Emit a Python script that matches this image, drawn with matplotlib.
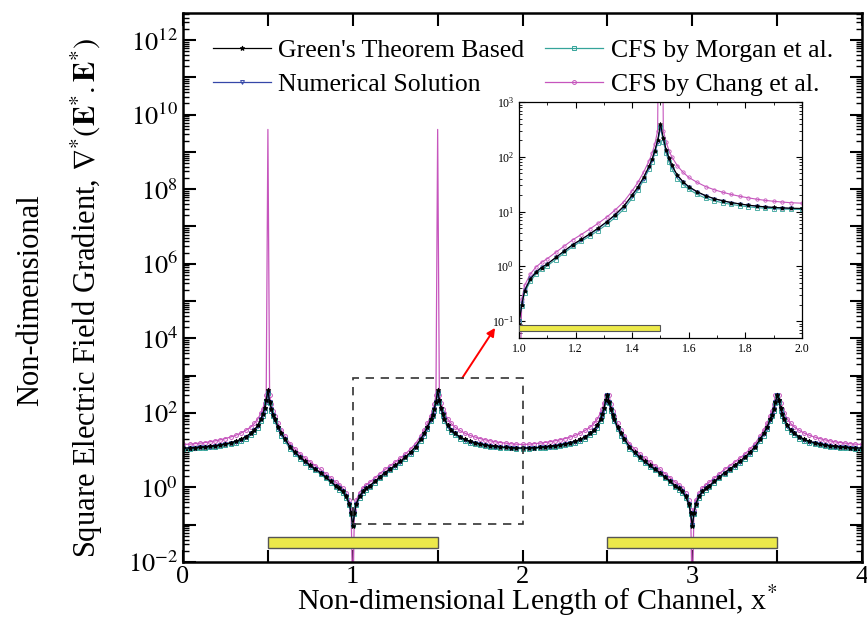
import numpy as np
import matplotlib
matplotlib.use("Agg")
import matplotlib.pyplot as plt
from matplotlib.patches import Rectangle
from matplotlib.ticker import LogLocator, NullFormatter, FixedLocator

plt.rcParams['font.family'] = ['Liberation Serif', 'DejaVu Serif']
plt.rcParams['mathtext.fontset'] = 'stix'
plt.rcParams['axes.unicode_minus'] = False

# half cell profile, x from electrode gap centre (1.0) to channel midpoint (2.0)
x_half = [1.00, 1.01, 1.02, 1.04, 1.06, 1.08, 1.10, 1.13, 1.16, 1.19, 1.22,
          1.25, 1.28, 1.31, 1.34, 1.37, 1.40, 1.42, 1.44, 1.46, 1.47, 1.48,
          1.49, 1.50, 1.51, 1.52, 1.53, 1.54, 1.56, 1.58, 1.60, 1.63, 1.66,
          1.69, 1.72, 1.75, 1.78, 1.81, 1.84, 1.87, 1.90, 1.93, 1.96, 2.00]

green = [0.09, 0.2, 0.36, 0.58, 0.78, 0.95, 1.1, 1.45, 1.9, 2.5, 3.1,
         3.9, 5.0, 6.5, 8.8, 12.5, 20, 28, 42, 68, 90, 130,
         200, 400, 220, 135, 95, 70, 46, 35, 28.5, 23, 19.5,
         17.2, 15.8, 14.6, 13.8, 13.1, 12.6, 12.2, 11.9, 11.7, 11.5, 11.4]
numerical = [0.1, 0.21, 0.37, 0.6, 0.8, 0.96, 1.1, 1.45, 1.9, 2.45, 3.05,
             3.85, 4.9, 6.4, 8.6, 12.2, 19.5, 27, 40, 65, 86, 125,
             190, 350, 210, 130, 92, 68, 45, 34, 28, 22.5, 19.2,
             17, 15.6, 14.5, 13.7, 13.0, 12.5, 12.1, 11.8, 11.6, 11.4, 11.3]
morgan = [0.1, 0.19, 0.33, 0.53, 0.72, 0.88, 1.02, 1.33, 1.75, 2.3, 2.85,
          3.55, 4.5, 5.8, 7.8, 11, 17.5, 24.5, 37, 60, 80, 115,
          180, 350, 190, 115, 80, 60, 40, 31, 25.5, 20.5, 17.5,
          15.7, 14.4, 13.5, 12.8, 12.2, 11.8, 11.5, 11.3, 11.1, 11.0, 10.9]
chang = [1e-3, 0.25, 0.45, 0.72, 0.97, 1.18, 1.38, 1.8, 2.35, 3.05, 3.8,
         4.8, 6.1, 7.9, 10.7, 15, 24, 34, 52, 85, 115, 170,
         300, 4e9, 300, 185, 130, 100, 68, 52, 42, 34, 28.5,
         25, 22.5, 20.5, 19, 17.8, 16.8, 16, 15.4, 14.9, 14.5, 14.2]

# second electrode pair: peaks flatten at this level
peak_cap_right = 300

def full_channel(vals):
    xh = np.array(x_half)
    yh = np.array(vals, dtype=float)
    # mirror about x = 1 to get the first cell, then repeat for the second
    cx = np.concatenate([2 - xh[::-1], xh[1:]])
    cy = np.concatenate([yh[::-1], yh[1:]])
    x = np.concatenate([cx, cx[1:] + 2])
    y = np.concatenate([cy, np.minimum(cy[1:], peak_cap_right)])
    return x, y

series = [
    ("CFS by Chang et al.", chang, '#c655bd', 'o'),
    ("CFS by Morgan et al.", morgan, '#35a49a', 's'),
    ("Numerical Solution", numerical, '#3547a8', 'v'),
    ("Green's Theorem Based", green, 'black', '*'),
]
electrodes = [(0.5, 1.5), (2.5, 3.5)]

fig = plt.figure(figsize=(8.67, 6.21), dpi=100)
ax = fig.add_axes([0.2111, 0.0950, 0.7832, 0.8840])

handles = {}
for label, vals, color, mk in series:
    x, y = full_channel(vals)
    ms = 3.5 if mk == '*' else 2.8
    # no marker on the singular spikes/dips
    marks = (y < 1e6) & (y > 5e-3)
    h, = ax.plot(x, y, color=color, lw=0.9, marker=mk, ms=ms, markevery=list(marks),
                 mfc=color if mk == '*' else 'none', mew=0.7, label=label)
    handles[label] = h

for a, b in electrodes:
    ax.add_patch(Rectangle((a, 0.024), b - a, 0.047 - 0.024, facecolor='#ece94a',
                           edgecolor='#555555', lw=1.0, zorder=5))

# zoom region
ax.add_patch(Rectangle((1.0, 0.105), 1.0, 850 - 0.105, fill=False,
                       edgecolor='#333333', lw=1.2, ls=(0, (5, 4)), zorder=6))

ax.set_yscale('log')
ax.set_xlim(0, 4)
ax.set_ylim(1e-2, 5.3e12)
ax.set_xticks(np.arange(0, 4.01, 0.5))
ax.set_xticklabels(['0', '', '1', '', '2', '', '3', '', '4'])
ax.yaxis.set_major_locator(FixedLocator([10.0**k for k in range(-2, 13)]))
ax.set_yticklabels([r'$10^{%d}$' % k if k % 2 == 0 else '' for k in range(-2, 13)])
ax.yaxis.set_minor_locator(LogLocator(base=10, subs=np.arange(2, 10), numticks=100))
ax.yaxis.set_minor_formatter(NullFormatter())
ax.tick_params(which='both', direction='in', top=True, right=True, labelsize=19)
ax.tick_params(which='major', length=9, width=1.5)
ax.tick_params(which='minor', length=4.5, width=1.0)
ax.tick_params(axis='x', which='major', pad=3)
for s in ax.spines.values():
    s.set_linewidth(1.8)

fig.text(0.62, 0.017, 'Non-dimensional Length of Channel, x$^{*}$', fontsize=21.5,
         ha='center', va='baseline')
fig.text(0.035, 0.517, 'Non-dimensional', rotation=90, fontsize=22,
         ha='center', va='center')
fig.text(0.1, 0.52, r'Square Electric Field Gradient, $\nabla^{*}(\mathbf{E}^{*}.\mathbf{E}^{*})$',
         rotation=90, fontsize=22, ha='center', va='center')

order = ["Green's Theorem Based", "Numerical Solution",
         "CFS by Morgan et al.", "CFS by Chang et al."]
ax.legend([handles[k] for k in order], order, ncol=2, frameon=False,
          fontsize=18.5, loc='upper left', bbox_to_anchor=(0.01, 0.995),
          handlelength=2.25, columnspacing=0.8, handletextpad=0.3,
          labelspacing=0.45)

# inset
axi = fig.add_axes([0.5986, 0.4557, 0.3264, 0.3800])
for label, vals, color, mk in series:
    x, y = full_channel(vals)
    ms = 3.0 if mk == '*' else 2.4
    axi.plot(x, y, color=color, lw=0.8, marker=mk, ms=ms,
             mfc=color if mk == '*' else 'none', mew=0.6)
axi.add_patch(Rectangle((1.0, 0.067), 0.5, 0.083 - 0.067, facecolor='#ece94a',
                        edgecolor='#555555', lw=0.8, zorder=5))
axi.set_yscale('log')
axi.set_xlim(1.0, 2.0)
axi.set_ylim(0.049, 1000)
axi.set_xticks(np.arange(1.0, 2.01, 0.2))
axi.set_xticks(np.arange(1.1, 2.0, 0.2), minor=True)
axi.yaxis.set_minor_locator(LogLocator(base=10, subs=np.arange(2, 10), numticks=100))
axi.yaxis.set_minor_formatter(NullFormatter())
axi.tick_params(which='both', direction='in', top=True, right=True, labelsize=8.5)
axi.tick_params(which='major', length=4, width=0.8)
axi.tick_params(which='minor', length=2, width=0.6)
for s in axi.spines.values():
    s.set_linewidth(0.9)

ax.annotate('', xy=(0.571, 0.472), xycoords='figure fraction',
            xytext=(0.533, 0.391), textcoords='figure fraction',
            arrowprops=dict(arrowstyle='-|>', color='red', lw=1.4,
                            mutation_scale=12, shrinkA=0, shrinkB=0))

fig.savefig('out.png', dpi=100)
